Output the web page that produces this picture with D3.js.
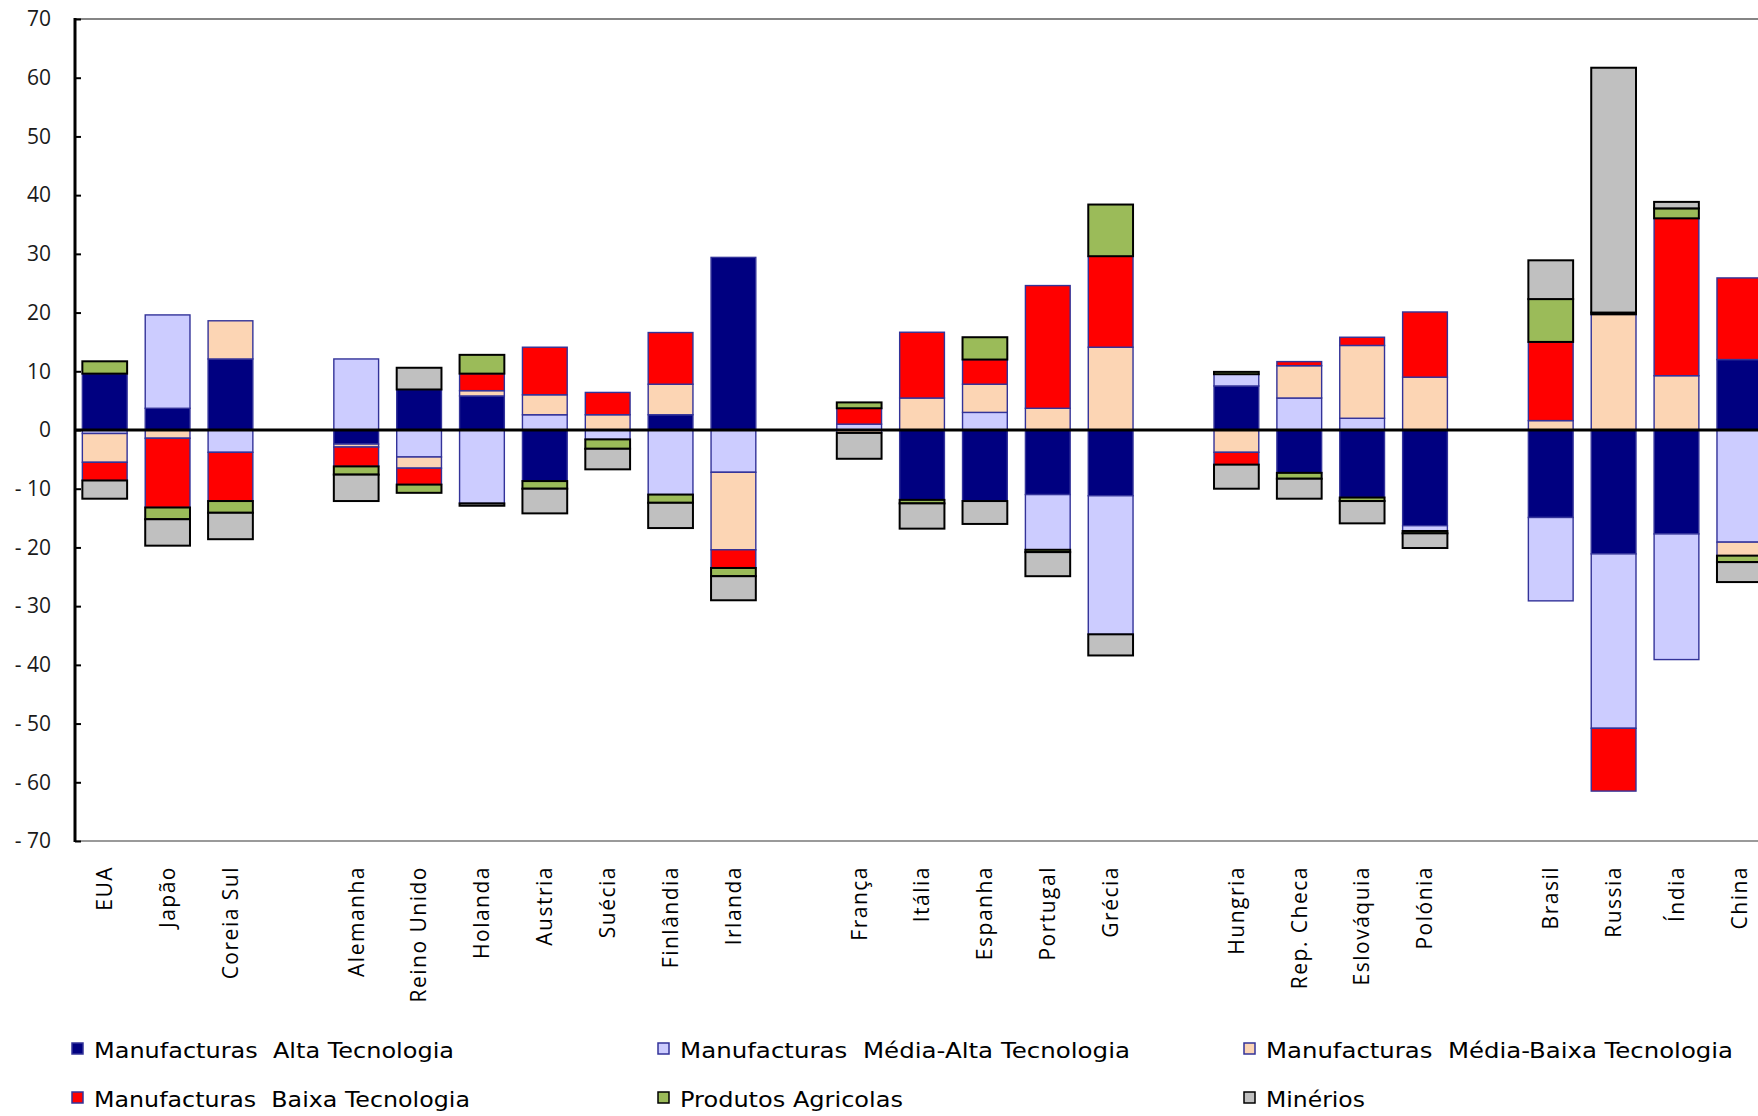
<!DOCTYPE html>
<html>
<head>
<meta charset="utf-8">
<script src="https://cdn.jsdelivr.net/npm/d3@7"></script>
<style>
  html, body { margin: 0; padding: 0; background: #fff; }
  svg { display: block; }
</style>
</head>
<body>
<svg id="chart" width="1758" height="1116"></svg>
<script>
// ---- Data ----
const groups = [
  ["EUA", "Japão", "Coreia Sul"],
  ["Alemanha", "Reino Unido", "Holanda", "Austria", "Suécia", "Finlândia", "Irlanda"],
  ["França", "Itália", "Espanha", "Portugal", "Grécia"],
  ["Hungria", "Rep. Checa", "Eslováquia", "Polónia"],
  ["Brasil", "Russia", "Índia", "China"]
];
const categories = groups.flat();

const seriesNames = [
  "Manufacturas  Alta Tecnologia",
  "Manufacturas  Média-Alta Tecnologia",
  "Manufacturas  Média-Baixa Tecnologia",
  "Manufacturas  Baixa Tecnologia",
  "Produtos Agricolas",
  "Minérios"
];

//                 EUA  Japão Coreia Alem  RU    Hol   Aus   Suéc  Finl  Irl   Fran  Itál   Esp   Port  Gréc  Hung  RCh   Eslov Polón Bras  Rus   Índia China
const altaTec    = [9.6, 3.7, 12.1, -2.4, 6.9, 5.8, -8.7, 0.0, 2.6, 29.4, 0.0, -11.9, -12.1, -11.0, -11.2, 7.5, -7.3, -11.5, -16.3, -14.9, -21.1, -17.7, 12.0];
const medAltaTec = [-0.6, 15.9, -3.8, 12.1, -4.6, -12.5, 2.6, -1.6, -11.0, -7.2, 1.0, 0.0, 3.0, -9.4, -23.6, 2.0, 5.45, 2.0, -0.9, -14.2, -29.7, -21.4, -19.1];
const medBaixaTec= [-4.9, -1.4, 6.5, -0.5, -1.9, 0.9, 3.4, 2.6, 5.2, -13.2, -0.5, 5.45, 4.8, 3.7, 14.1, -3.8, 5.5, 12.4, 9.0, 1.6, 19.7, 9.25, -2.3];
const baixaTec   = [-3.1, -11.8, -8.3, -3.3, -2.8, 2.9, 8.1, 3.8, 8.8, -3.1, 2.7, 11.2, 4.2, 20.9, 15.5, -2.1, 0.7, 1.4, 11.1, 13.4, -10.7, 26.8, 13.9];
const agricolas  = [2.1, -2.0, -2.0, -1.4, -1.4, 3.2, -1.3, -1.6, -1.4, -1.4, 1.0, -0.6, 3.8, -0.4, 8.8, 0.4, -1.0, -0.6, -0.4, 7.3, 0.3, 1.7, -1.1];
const minerios   = [-3.1, -4.5, -4.5, -4.5, 3.7, -0.4, -4.2, -3.5, -4.3, -4.1, -4.4, -4.3, -3.9, -4.1, -3.6, -4.1, -3.4, -3.8, -2.5, 6.6, 41.7, 1.1, -3.4];

const yTicks = [-70, -60, -50, -40, -30, -20, -10, 0, 10, 20, 30, 40, 50, 60, 70];

const colors = ["#000080", "#CCCCFF", "#FCD5B4", "#FF0000", "#9BBB59", "#C0C0C0"];
const strokes = ["#333399", "#333399", "#333399", "#333399", "#000000", "#000000"];
const strokeW = [1.4, 1.4, 1.4, 1.4, 2, 2];
// rendered widths of the legend texts in the reference (Century Gothic-like)
const legendTextWidths = [360, 450, 467, 376, 223, 99];

// ---- Build table for the stack ----
const valueArrays = [altaTec, medAltaTec, medBaixaTec, baixaTec, agricolas, minerios];
const keys = seriesNames;
const rows = categories.map((c, i) => {
  const r = { cat: c };
  keys.forEach((k, j) => r[k] = valueArrays[j][i]);
  return r;
});

// band domain with blank slots between groups
const domain = [];
groups.forEach((g, gi) => {
  if (gi > 0) domain.push("__gap" + gi);
  g.forEach(c => domain.push(c));
});

const svg = d3.select("#chart");
const axisX = 75, plotTop = 19, plotBottom = 841;
const step = 62.87;
const x = d3.scaleBand()
  .domain(domain)
  .range([73.3, 73.3 + step * domain.length])
  .paddingInner(0.288)
  .paddingOuter(0.144);
const y = d3.scaleLinear().domain([-70, 70]).range([plotBottom, plotTop]);

const stack = d3.stack().keys(keys).offset(d3.stackOffsetDiverging);
const stacked = stack(rows);

// plot frame lines
svg.append("line").attr("x1", axisX).attr("x2", 1758).attr("y1", plotTop).attr("y2", plotTop)
  .attr("stroke", "#858585").attr("stroke-width", 2);
svg.append("line").attr("x1", axisX).attr("x2", 1758).attr("y1", plotBottom).attr("y2", plotBottom)
  .attr("stroke", "#9a9a9a").attr("stroke-width", 2);

// bars
const layer = svg.append("g");
stacked.forEach((s, si) => {
  layer.append("g")
    .attr("fill", colors[si])
    .attr("stroke", strokes[si])
    .attr("stroke-width", strokeW[si])
    .selectAll("rect")
    .data(s.filter(d => d[1] - d[0] !== 0))
    .join("rect")
    .attr("x", d => x(d.data.cat))
    .attr("width", x.bandwidth())
    .attr("y", d => y(Math.max(d[0], d[1])))
    .attr("height", d => Math.abs(y(d[0]) - y(d[1])));
});

// zero line
svg.append("line").attr("x1", axisX).attr("x2", 1758).attr("y1", y(0)).attr("y2", y(0))
  .attr("stroke", "#000").attr("stroke-width", 3);

// y axis
const yAxis = d3.axisLeft(y)
  .tickValues(yTicks)
  .tickSizeInner(-6)
  .tickSizeOuter(0)
  .tickPadding(24)
  .tickFormat(d => d < 0 ? "- " + Math.abs(d) : String(d));
const yg = svg.append("g").attr("transform", `translate(${axisX},0)`).call(yAxis);
yg.select(".domain").remove();
yg.selectAll(".tick line").attr("stroke", "#000").attr("stroke-width", 2);
yg.selectAll(".tick text")
  .attr("font-family", "'Open Sans', sans-serif")
  .attr("font-size", 21)
  .attr("fill", "#1a1a1a");
svg.append("line").attr("x1", axisX).attr("x2", axisX).attr("y1", plotTop - 1).attr("y2", plotBottom + 1)
  .attr("stroke", "#000").attr("stroke-width", 3);

// x labels (rotated)
svg.append("g").selectAll("text")
  .data(categories)
  .join("text")
  .attr("transform", d => `translate(${x(d) + x.bandwidth() / 2},866) rotate(-90)`)
  .attr("text-anchor", "end")
  .attr("dy", "0.35em")
  .attr("font-family", "'Open Sans', sans-serif")
  .attr("font-size", 21)
  .attr("letter-spacing", 1.5)
  .attr("fill", "#000")
  .text(d => d);

// legend
const legendPos = [
  [72, 1058], [658, 1058], [1244, 1058],
  [72, 1107], [658, 1107], [1244, 1107]
];
const lg = svg.append("g");
seriesNames.forEach((name, si) => {
  const [lx, ly] = legendPos[si];
  lg.append("rect")
    .attr("x", lx).attr("y", ly - 15).attr("width", 11).attr("height", 11)
    .attr("fill", colors[si])
    .attr("stroke", si >= 4 ? "#000" : "#333399")
    .attr("stroke-width", 1.5);
  lg.append("text")
    .attr("x", lx + 22).attr("y", ly)
    .attr("font-family", "'DejaVu Sans', sans-serif")
    .attr("font-size", 20.5)
    .attr("fill", "#000")
    .attr("textLength", legendTextWidths[si])
    .attr("lengthAdjust", "spacingAndGlyphs")
    .style("white-space", "pre")
    .text(name);
});
</script>
</body>
</html>
